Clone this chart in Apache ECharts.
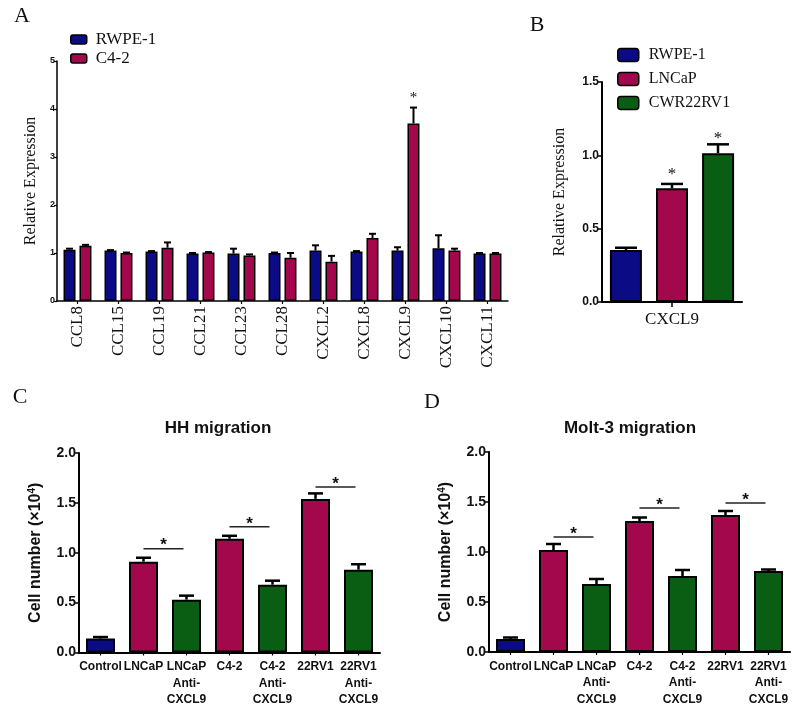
<!DOCTYPE html>
<html>
<head>
<meta charset="utf-8">
<style>html,body{margin:0;padding:0;background:#fff;}#main{width:800px;height:708px;}</style>
<script src="https://cdn.jsdelivr.net/npm/echarts@6/dist/echarts.min.js"></script>
</head>
<body>
<div id="main"></div>
<script>
// ---------- DATA ----------
const catA = ['CCL8','CCL15','CCL19','CCL21','CCL23','CCL28','CXCL2','CXCL8','CXCL9','CXCL10','CXCL11'];
const rwpeA = [1.07,1.05,1.03,0.99,0.99,1.00,1.05,1.03,1.05,1.10,0.99];
const rwpeAErr = [0.02,0.01,0.01,0.01,0.10,0.01,0.11,0.01,0.07,0.27,0.01];
const c42A = [1.15,1.00,1.11,1.01,0.95,0.90,0.82,1.31,3.70,1.05,0.99];
const c42AErr = [0.02,0.01,0.11,0.01,0.02,0.10,0.12,0.09,0.33,0.04,0.01];
const starA = [8];

const catB = ['CXCL9'];
const rwpeB = [0.355], rwpeBErr = [0.015];
const lncapB = [0.775], lncapBErr = [0.03];
const cwrB = [1.015], cwrBErr = [0.06];

const catCD = ['Control','LNCaP','LNCaP\nAnti-\nCXCL9','C4-2','C4-2\nAnti-\nCXCL9','22RV1','22RV1\nAnti-\nCXCL9'];
const hhVals = [0.14,0.91,0.53,1.14,0.68,1.54,0.83];
const hhErr = [0.015,0.04,0.04,0.03,0.04,0.055,0.055];
const sigC = [[1,2,1.04],[3,4,1.26],[5,6,1.66]];
const moltVals = [0.13,1.02,0.68,1.31,0.76,1.37,0.81];
const moltErr = [0.015,0.06,0.05,0.035,0.06,0.04,0.015];
const sigD = [[1,2,1.15],[3,4,1.44],[5,6,1.49]];

// ---------- STYLE ----------
const BLUE = '#0b0b85', RED = '#a3084c', GREEN = '#0a5e14';
const SERIF = 'Liberation Serif', SANS = 'Liberation Sans';

const chart = echarts.init(document.getElementById('main'));

function errSeries(xi, vals, errs, offset, capHalf, lw, stars, starFont, starGap) {
  return {
    type: 'custom', xAxisIndex: xi, yAxisIndex: xi, z: 5, silent: true,
    encode: {x: 0, y: 1},
    data: vals.map((v, i) => [i, v, errs[i], stars && stars.indexOf(i) >= 0 ? 1 : 0]),
    renderItem: function (params, api) {
      const i = api.value(0), v = api.value(1), e = api.value(2), s = api.value(3);
      const b = api.coord([i, v]);
      const t = api.coord([i, v + e]);
      const x = b[0] + offset;
      const ch = [
        {type: 'line', shape: {x1: x, y1: b[1], x2: x, y2: t[1]}, style: {stroke: '#000', lineWidth: lw}},
        {type: 'line', shape: {x1: x - capHalf, y1: t[1], x2: x + capHalf, y2: t[1]}, style: {stroke: '#000', lineWidth: lw}}
      ];
      if (s) {
        ch.push({type: 'text', style: {text: '*', x: x, y: t[1] - starGap, align: 'center', verticalAlign: 'middle', font: starFont, fill: '#111'}});
      }
      return {type: 'group', children: ch};
    }
  };
}

function sigSeries(xi, sig) {
  return {
    type: 'custom', xAxisIndex: xi, yAxisIndex: xi, z: 5, silent: true,
    encode: {x: 0, y: 2},
    data: sig,
    renderItem: function (params, api) {
      const a = api.value(0), c = api.value(1), v = api.value(2);
      const p1 = api.coord([a, v]);
      const p2 = api.coord([c, v]);
      const x2 = p2[0] - 3;
      return {type: 'group', children: [
        {type: 'line', shape: {x1: p1[0], y1: p1[1], x2: x2, y2: p1[1]}, style: {stroke: '#222', lineWidth: 1.5}},
        {type: 'text', style: {text: '*', x: (p1[0] + x2) / 2, y: p1[1] - 3, align: 'center', verticalAlign: 'middle', font: 'bold 17px ' + SANS, fill: '#111'}}
      ]};
    }
  };
}

function colorCD(i) { return i === 0 ? BLUE : (i % 2 === 1 ? RED : GREEN); }

const axisLineBlack = w => ({show: true, lineStyle: {color: '#000', width: w}});

const option = {
  animation: false,
  backgroundColor: '#fff',
  title: [
    {text: 'HH migration', left: 213, top: 423, textAlign: 'center', textVerticalAlign: 'middle',
     textStyle: {fontFamily: SANS, fontWeight: 'bold', fontSize: 17, color: '#111'}},
    {text: 'Molt-3 migration', left: 625, top: 423, textAlign: 'center', textVerticalAlign: 'middle',
     textStyle: {fontFamily: SANS, fontWeight: 'bold', fontSize: 17, color: '#111'}}
  ],
  graphic: [
    {type: 'text', style: {text: 'A', x: 22, y: 16, align: 'center', verticalAlign: 'middle', font: '22px ' + SERIF, fill: '#111'}},
    {type: 'text', style: {text: 'B', x: 537, y: 25, align: 'center', verticalAlign: 'middle', font: '22px ' + SERIF, fill: '#111'}},
    {type: 'text', style: {text: 'C', x: 20, y: 397, align: 'center', verticalAlign: 'middle', font: '22px ' + SERIF, fill: '#111'}},
    {type: 'text', style: {text: 'D', x: 432, y: 402, align: 'center', verticalAlign: 'middle', font: '22px ' + SERIF, fill: '#111'}}
  ],
  legend: [
    {data: ['RWPE-1', 'C4-2'], orient: 'vertical', left: 70, top: 31, padding: 0, itemWidth: 16, itemHeight: 9, itemGap: 2,
     icon: 'roundRect', itemStyle: {borderColor: '#000', borderWidth: 1.5},
     textStyle: {fontFamily: SERIF, fontSize: 17, color: '#111', padding: [0, 0, 0, 4]}, selectedMode: false},
    {data: ['RWPE-1', 'LNCaP', 'CWR22RV1'], orient: 'vertical', left: 617, top: 47, padding: 0, itemWidth: 21, itemHeight: 13, itemGap: 8,
     icon: 'roundRect', itemStyle: {borderColor: '#000', borderWidth: 1.5},
     textStyle: {fontFamily: SERIF, fontSize: 16, color: '#111', padding: [0, 0, 0, 5]}, selectedMode: false}
  ],
  grid: [
    {left: 57, top: 61, width: 451, height: 240},
    {left: 602, top: 82, width: 140, height: 220},
    {left: 79, top: 453, width: 301, height: 200},
    {left: 489, top: 452, width: 301, height: 200}
  ],
  xAxis: [
    {type: 'category', gridIndex: 0, data: catA, axisLine: axisLineBlack(1.5),
     axisTick: {show: true, alignWithLabel: true, length: 3, lineStyle: {color: '#000', width: 1.2}},
     axisLabel: {rotate: 90, margin: 5, fontFamily: SERIF, fontSize: 17, color: '#111', interval: 0}},
    {type: 'category', gridIndex: 1, data: catB, axisLine: axisLineBlack(2),
     axisTick: {show: true, alignWithLabel: true, length: 5, lineStyle: {color: '#000', width: 1.5}},
     axisLabel: {margin: 9, fontFamily: SERIF, fontSize: 17, color: '#111'}},
    {type: 'category', gridIndex: 2, data: catCD, axisLine: axisLineBlack(2),
     axisTick: {show: true, alignWithLabel: true, length: 3, lineStyle: {color: '#000', width: 1.2}},
     axisLabel: {margin: 6, interval: 0, fontFamily: SANS, fontWeight: 'bold', fontSize: 12, lineHeight: 16.5, color: '#111'}},
    {type: 'category', gridIndex: 3, data: catCD, axisLine: axisLineBlack(2),
     axisTick: {show: true, alignWithLabel: true, length: 3, lineStyle: {color: '#000', width: 1.2}},
     axisLabel: {margin: 6, interval: 0, fontFamily: SANS, fontWeight: 'bold', fontSize: 12, lineHeight: 16.5, color: '#111'}}
  ],
  yAxis: [
    {type: 'value', gridIndex: 0, min: 0, max: 5, interval: 1, splitLine: {show: false},
     axisLine: axisLineBlack(1.5), axisTick: {show: true, length: 3, lineStyle: {color: '#000', width: 1.2}},
     axisLabel: {margin: 2, fontFamily: SANS, fontWeight: 'bold', fontSize: 9, color: '#111'},
     name: 'Relative Expression', nameLocation: 'middle', nameGap: 17,
     nameTextStyle: {fontFamily: SERIF, fontSize: 16, color: '#111'}},
    {type: 'value', gridIndex: 1, min: 0, max: 1.5, interval: 0.5, splitLine: {show: false},
     axisLine: axisLineBlack(2), axisTick: {show: true, length: 5, lineStyle: {color: '#000', width: 1.5}},
     axisLabel: {margin: 3, fontFamily: SANS, fontWeight: 'bold', fontSize: 12, color: '#111', formatter: v => v.toFixed(1)},
     name: 'Relative Expression', nameLocation: 'middle', nameGap: 34,
     nameTextStyle: {fontFamily: SERIF, fontSize: 16, color: '#111'}},
    {type: 'value', gridIndex: 2, min: 0, max: 2, interval: 0.5, splitLine: {show: false},
     axisLine: axisLineBlack(2), axisTick: {show: true, length: 5, lineStyle: {color: '#000', width: 1.5}},
     axisLabel: {margin: 3, fontFamily: SANS, fontWeight: 'bold', fontSize: 14, color: '#111', formatter: v => v.toFixed(1)},
     name: 'Cell number (×10{sup|4})', nameLocation: 'middle', nameGap: 34,
     nameTextStyle: {fontFamily: SANS, fontWeight: 'bold', fontSize: 16, color: '#111', lineHeight: 18,
       rich: {sup: {fontFamily: SANS, fontWeight: 'bold', fontSize: 10, verticalAlign: 'top', lineHeight: 18, color: '#111'}}}},
    {type: 'value', gridIndex: 3, min: 0, max: 2, interval: 0.5, splitLine: {show: false},
     axisLine: axisLineBlack(2), axisTick: {show: true, length: 5, lineStyle: {color: '#000', width: 1.5}},
     axisLabel: {margin: 3, fontFamily: SANS, fontWeight: 'bold', fontSize: 14, color: '#111', formatter: v => v.toFixed(1)},
     name: 'Cell number (×10{sup|4})', nameLocation: 'middle', nameGap: 34,
     nameTextStyle: {fontFamily: SANS, fontWeight: 'bold', fontSize: 16, color: '#111', lineHeight: 18,
       rich: {sup: {fontFamily: SANS, fontWeight: 'bold', fontSize: 10, verticalAlign: 'top', lineHeight: 18, color: '#111'}}}}
  ],
  series: [
    // Panel A
    {name: 'RWPE-1', type: 'bar', xAxisIndex: 0, yAxisIndex: 0, data: rwpeA, barWidth: 12, barGap: '33%',
     itemStyle: {color: BLUE, borderColor: '#000', borderWidth: 1.5}},
    {name: 'C4-2', type: 'bar', xAxisIndex: 0, yAxisIndex: 0, data: c42A, barWidth: 12, barGap: '33%',
     itemStyle: {color: RED, borderColor: '#000', borderWidth: 1.5}},
    errSeries(0, rwpeA, rwpeAErr, -8, 3.5, 2, null),
    errSeries(0, c42A, c42AErr, 8, 3.5, 2, starA, '15px ' + SERIF, 9),
    // Panel B
    {name: 'RWPE-1', type: 'bar', xAxisIndex: 1, yAxisIndex: 1, data: rwpeB, barWidth: 32, barGap: '44%',
     itemStyle: {color: BLUE, borderColor: '#000', borderWidth: 2}},
    {name: 'LNCaP', type: 'bar', xAxisIndex: 1, yAxisIndex: 1, data: lncapB, barWidth: 32, barGap: '44%',
     itemStyle: {color: RED, borderColor: '#000', borderWidth: 2}},
    {name: 'CWR22RV1', type: 'bar', xAxisIndex: 1, yAxisIndex: 1, data: cwrB, barWidth: 32, barGap: '44%',
     itemStyle: {color: GREEN, borderColor: '#000', borderWidth: 2}},
    errSeries(1, rwpeB, rwpeBErr, -46, 11, 2.5, null),
    errSeries(1, lncapB, lncapBErr, 0, 11, 2.5, [0], '17px ' + SERIF, 9),
    errSeries(1, cwrB, cwrBErr, 46, 11, 2.5, [0], '17px ' + SERIF, 6),
    // Panel C
    {name: 'HH', type: 'bar', xAxisIndex: 2, yAxisIndex: 2, barWidth: 29,
     data: hhVals.map((v, i) => ({value: v, itemStyle: {color: colorCD(i)}})),
     itemStyle: {borderColor: '#000', borderWidth: 2}},
    errSeries(2, hhVals, hhErr, 0, 7.5, 2.5, null),
    sigSeries(2, sigC),
    // Panel D
    {name: 'Molt3', type: 'bar', xAxisIndex: 3, yAxisIndex: 3, barWidth: 29,
     data: moltVals.map((v, i) => ({value: v, itemStyle: {color: colorCD(i)}})),
     itemStyle: {borderColor: '#000', borderWidth: 2}},
    errSeries(3, moltVals, moltErr, 0, 7.5, 2.5, null),
    sigSeries(3, sigD)
  ]
};
chart.setOption(option);
</script>
</body>
</html>
